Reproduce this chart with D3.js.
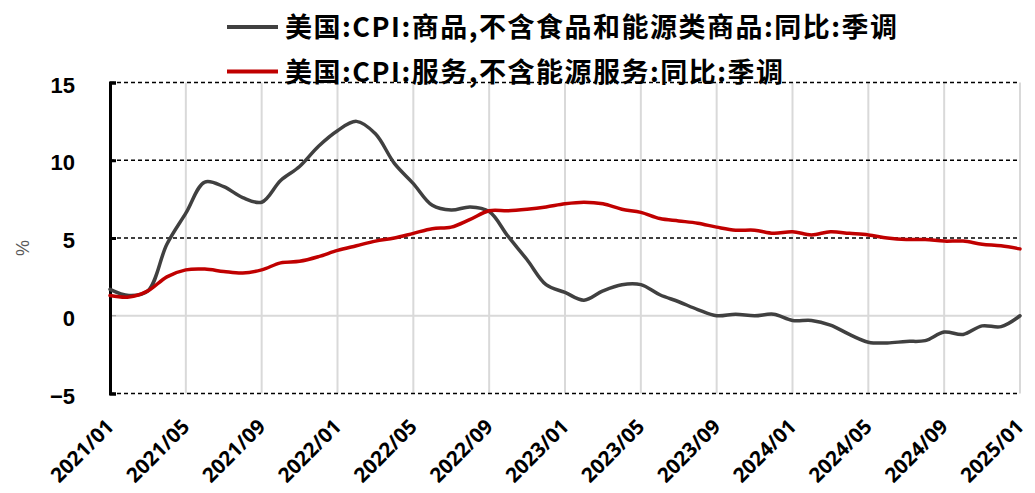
<!DOCTYPE html>
<html lang="zh">
  <head>
    <meta charset="UTF-8" />
    <title>CPI</title>
    <script src="https://cdn.jsdelivr.net/npm/d3@7/dist/d3.min.js"></script>
    <style>
      html,
      body {
        margin: 0;
        padding: 0;
        background: #fff;
      }
      svg {
        display: block;
      }
    </style>
  </head>
  <body>
    <svg width="1035" height="493"></svg>
    <script>
      const months = [
        '2021/01', '2021/02', '2021/03', '2021/04', '2021/05', '2021/06', '2021/07', '2021/08', '2021/09', '2021/10', '2021/11', '2021/12',
        '2022/01', '2022/02', '2022/03', '2022/04', '2022/05', '2022/06', '2022/07', '2022/08', '2022/09', '2022/10', '2022/11', '2022/12',
        '2023/01', '2023/02', '2023/03', '2023/04', '2023/05', '2023/06', '2023/07', '2023/08', '2023/09', '2023/10', '2023/11', '2023/12',
        '2024/01', '2024/02', '2024/03', '2024/04', '2024/05', '2024/06', '2024/07', '2024/08', '2024/09', '2024/10', '2024/11', '2024/12',
        '2025/01'
      ];

      // 商品,不含食品和能源类商品
      const goods = [
        1.7, 1.3, 1.6, 4.6, 6.6, 8.6, 8.3, 7.6, 7.3, 8.7, 9.6, 10.9,
        11.9, 12.5, 11.7, 9.8, 8.5, 7.1, 6.8, 7.0, 6.7, 5.1, 3.6, 2.0,
        1.5, 1.0, 1.6, 2.0, 2.0, 1.35, 0.9, 0.4, 0.0, 0.1, 0.0, 0.1,
        -0.3, -0.3, -0.6, -1.2, -1.7, -1.75, -1.65, -1.6, -1.05, -1.2, -0.65, -0.7,
        0.0
      ];

      // 服务,不含能源服务
      const services = [
        1.3, 1.2, 1.6, 2.5, 2.95, 3.0, 2.85, 2.75, 2.95, 3.4, 3.5, 3.8,
        4.2, 4.5, 4.8, 5.0, 5.3, 5.6, 5.7, 6.2, 6.75, 6.75, 6.85, 7.0,
        7.2, 7.3, 7.2, 6.85, 6.65, 6.25, 6.1, 5.95, 5.7, 5.5, 5.5, 5.3,
        5.4, 5.2, 5.4, 5.3, 5.2, 5.0, 4.9, 4.9, 4.8, 4.8, 4.6, 4.5,
        4.3
      ];

      const seriesNames = [
        '美国:CPI:商品,不含食品和能源类商品:同比:季调',
        '美国:CPI:服务,不含能源服务:同比:季调'
      ];
      const seriesColors = ['#404040', '#c00000'];

      const yTicks = [-5, 0, 5, 10, 15];
      const xTickIndex = [0, 4, 8, 12, 16, 20, 24, 28, 32, 36, 40, 44, 48];

      const svg = d3.select('svg');

      const x = d3
        .scaleLinear()
        .domain([0, months.length - 1])
        .range([110, 1020]);

      const y = d3
        .scaleLinear()
        .domain([-5, 15])
        .range([393.5, 82.5]);

      // vertical gridlines
      svg
        .append('g')
        .selectAll('line')
        .data(xTickIndex.slice(1))
        .enter()
        .append('line')
        .attr('x1', d => x(d))
        .attr('x2', d => x(d))
        .attr('y1', y(15))
        .attr('y2', y(-5))
        .attr('stroke', '#d9d9d9')
        .attr('stroke-width', 2);

      // horizontal gridlines
      svg
        .append('g')
        .selectAll('line')
        .data(yTicks.filter(d => d !== 0))
        .enter()
        .append('line')
        .attr('x1', x(0))
        .attr('x2', x(48))
        .attr('y1', d => y(d))
        .attr('y2', d => y(d))
        .attr('stroke', '#000')
        .attr('stroke-width', 1.3)
        .attr('stroke-dasharray', '4,3');

      // zero line (category axis)
      svg
        .append('line')
        .attr('x1', x(0))
        .attr('x2', x(48))
        .attr('y1', y(0))
        .attr('y2', y(0))
        .attr('stroke', '#d9d9d9')
        .attr('stroke-width', 2);
      svg
        .append('path')
        .attr('d', `M${x(0) + 6},${y(0)}H${x(0) + 1}V${y(0) + 7}`)
        .attr('fill', 'none')
        .attr('stroke', '#999')
        .attr('stroke-width', 1.2);

      // y axis
      const yAxis = d3
        .axisRight(y)
        .tickValues(yTicks)
        .tickSize(6)
        .tickFormat('');
      const yG = svg
        .append('g')
        .attr('transform', `translate(${x(0)},0)`)
        .call(yAxis);
      yG.select('.domain').attr('stroke', '#000').attr('stroke-width', 3);
      yG.selectAll('.tick line').attr('stroke', '#000').attr('stroke-width', 3);
      yG.selectAll('.tick')
        .filter(d => d === 0)
        .remove();

      svg
        .append('g')
        .selectAll('text')
        .data(yTicks)
        .enter()
        .append('text')
        .attr('x', 75)
        .attr('y', d => y(d) + 10)
        .attr('text-anchor', 'end')
        .attr('font-family', 'Liberation Sans, Arial, sans-serif')
        .attr('font-size', 22)
        .attr('font-weight', 'bold')
        .attr('fill', '#000')
        .text(d => (d < 0 ? '\u2212' + Math.abs(d) : d));

      svg
        .append('text')
        .attr('transform', `translate(29,248) rotate(-90)`)
        .attr('text-anchor', 'middle')
        .attr('font-family', 'Liberation Sans, Arial, sans-serif')
        .attr('font-size', 18)
        .attr('fill', '#595959')
        .text('%');

      // x labels
      svg
        .append('g')
        .selectAll('text')
        .data(xTickIndex)
        .enter()
        .append('text')
        .attr('transform', d => `translate(${x(d) + 5},${428}) rotate(-45)`)
        .attr('text-anchor', 'end')
        .attr('font-family', 'Open Sans, Liberation Sans, sans-serif')
        .attr('font-size', 20.5)
        .attr('font-weight', 'bold')
        .attr('fill', '#000')
        .text(d => months[d]);

      // series lines
      const line = d3
        .line()
        .x((d, i) => x(i))
        .y(d => y(d))
        .curve(d3.curveCatmullRom.alpha(0.5));

      [goods, services].forEach((values, k) => {
        svg
          .append('path')
          .datum(values)
          .attr('d', line)
          .attr('fill', 'none')
          .attr('stroke', seriesColors[k])
          .attr('stroke-width', 3.5)
          .attr('stroke-linejoin', 'round')
          .attr('stroke-linecap', 'round');
      });

      // legend
      const legend = svg
        .append('g')
        .selectAll('g')
        .data(seriesNames)
        .enter()
        .append('g')
        .attr('transform', (d, i) => `translate(227,${27 + i * 44.5})`);
      legend
        .append('line')
        .attr('x1', 0)
        .attr('x2', 51)
        .attr('stroke', (d, i) => seriesColors[i])
        .attr('stroke-width', 4);
      legend
        .append('text')
        .attr('x', 58)
        .attr('y', 10)
        .attr('font-family', 'Noto Sans CJK SC, sans-serif')
        .attr('font-size', 27)
        .attr('font-weight', 'bold')
        .attr('letter-spacing', 1.5)
        .attr('fill', '#000')
        .text(d => d);
    </script>
  </body>
</html>
